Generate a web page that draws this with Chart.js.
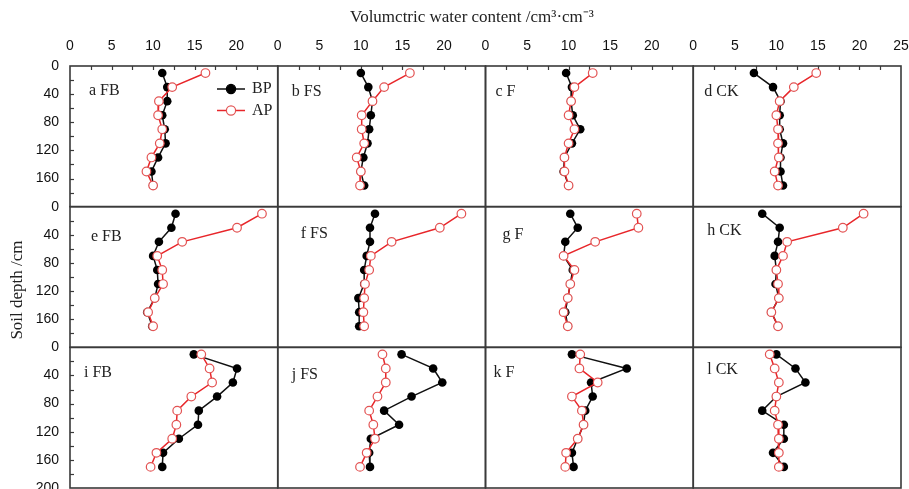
<!DOCTYPE html>
<html>
<head>
<meta charset="utf-8">
<script src="https://cdn.jsdelivr.net/npm/chart.js@4.4.1/dist/chart.umd.min.js"></script>
<style>
  html, body { margin: 0; padding: 0; background: #fff; }
  #wrap { position: relative; width: 909px; height: 489px; }
</style>
</head>
<body>
<div id="wrap"><canvas id="soilChart"></canvas></div>
<script>
// ---------- Data ----------
const DEPTHS = [10, 30, 50, 70, 90, 110, 130, 150, 170];   // soil depth, cm
const PANEL_LABELS = ['a FB', 'b FS', 'c F', 'd CK', 'e FB', 'f FS', 'g F', 'h CK', 'i FB', 'j FS', 'k F', 'l CK'];
const X_TICKS = [0, 5, 10, 15, 20, 25];
const Y_TICKS = [0, 40, 80, 120, 160, 200];

// BP (before) per panel, a..l
const BP_VALUES = [
  [11.1, 11.7, 11.7, 11.1, 11.4, 11.5, 10.6, 9.8, 10.0],   // a
  [10.0, 10.9, 11.4, 11.2, 11.0, 10.8, 10.3, 10.0, 10.4],  // b
  [9.7, 10.4, 10.3, 10.5, 11.4, 10.4, 9.5, 9.4, 10.0],     // c
  [7.3, 9.6, 10.5, 10.4, 10.4, 10.8, 10.5, 10.5, 10.8],    // d
  [12.7, 12.2, 10.7, 10.0, 10.5, 10.6, 10.2, 9.3, 9.9],    // e
  [11.7, 11.1, 11.1, 10.7, 10.4, 10.4, 9.7, 9.8, 9.8],     // f
  [10.2, 11.1, 9.6, 9.4, 10.5, 10.2, 9.9, 9.6, 9.9],       // g
  [8.3, 10.4, 10.2, 9.8, 10.0, 9.9, 10.3, 9.4, 10.2],      // h
  [14.9, 20.1, 19.6, 17.7, 15.5, 15.4, 13.1, 11.2, 11.1],  // i
  [14.9, 18.7, 19.8, 16.1, 12.8, 14.6, 11.2, 11.0, 11.1],  // j
  [10.4, 17.0, 12.7, 12.9, 12.0, 11.8, 11.1, 10.4, 10.6],  // k
  [10.0, 12.3, 13.5, 10.0, 8.3, 10.9, 10.9, 9.6, 10.9]     // l
];

// AP (after) per panel, a..l
const AP_VALUES = [
  [16.3, 12.3, 10.7, 10.6, 11.1, 10.8, 9.8, 9.2, 10.0],    // a
  [15.9, 12.8, 11.4, 10.1, 10.1, 10.4, 9.5, 10.0, 9.9],    // b
  [12.9, 10.7, 10.3, 10.0, 10.7, 10.0, 9.5, 9.5, 10.0],    // c
  [14.8, 12.1, 10.4, 10.0, 10.2, 10.2, 10.3, 9.8, 10.2],   // d
  [23.1, 20.1, 13.5, 10.5, 11.1, 11.2, 10.2, 9.4, 10.0],   // e
  [22.1, 19.5, 13.7, 11.2, 11.0, 10.5, 10.4, 10.3, 10.4],  // f
  [18.2, 18.4, 13.2, 9.4, 10.7, 10.2, 9.9, 9.4, 9.9],      // g
  [20.5, 18.0, 11.3, 10.8, 10.0, 10.2, 10.3, 9.4, 10.2],   // h
  [15.8, 16.8, 17.1, 14.6, 12.9, 12.8, 12.3, 10.4, 9.7],   // i
  [12.6, 13.0, 13.0, 12.0, 11.0, 11.5, 11.7, 10.7, 9.9],   // j
  [11.4, 11.3, 13.5, 10.4, 11.6, 11.8, 11.1, 9.7, 9.6],    // k
  [9.2, 9.8, 10.3, 10.0, 9.8, 10.2, 10.3, 10.3, 10.3]      // l
];

// ---------- Styling ----------
const COLS = 4, ROWS = 3;
const FRAME = '#3a3a3a';
const RED = '#e8262a';
const RED_PT = '#e35454';
const SANS = '"Liberation Sans", Arial, sans-serif';
const SERIF = '"Liberation Serif", "Times New Roman", serif';
// panel label offsets from the panel's top-left corner (px)
const LABEL_DX = [19, 14, 10, 11, 21, 23, 17, 14, 14, 14, 8, 14];
const LABEL_DY = [25, 26, 26, 26, 30, 27, 28, 24, 25, 27, 25, 22];

// ---------- Datasets ----------
const datasets = [];
for (let p = 0; p < 12; p++) {
  const col = p % COLS, row = Math.floor(p / COLS);
  datasets.push({
    label: 'AP', order: 1,
    data: AP_VALUES[p].map((v, i) => ({ x: v, y: DEPTHS[i] })),
    xAxisID: 'x' + col, yAxisID: 'y' + row,
    showLine: true, borderColor: RED, borderWidth: 1.5,
    pointRadius: 4.3, pointBorderWidth: 1.2,
    pointBackgroundColor: '#fff', pointBorderColor: RED_PT
  });
  datasets.push({
    label: 'BP', order: 2,
    data: BP_VALUES[p].map((v, i) => ({ x: v, y: DEPTHS[i] })),
    xAxisID: 'x' + col, yAxisID: 'y' + row,
    showLine: true, borderColor: '#111', borderWidth: 1.5,
    pointRadius: 4.3, pointBorderWidth: 0,
    pointBackgroundColor: '#000', pointBorderColor: '#000'
  });
}

// ---------- Scales (stacked axes: one per column on top, one per row on the left) ----------
// top/left boxes get laid out in reverse key order, so add them last-first
const scales = {};
for (let c = COLS - 1; c >= 0; c--) {
  scales['x' + c] = {
    type: 'linear', position: 'top', stack: 'cols', stackWeight: 1,
    min: 0, max: 25,
    afterBuildTicks: s => { s.ticks = X_TICKS.map(v => ({ value: v })); },
    grid: { display: false, drawTicks: false },
    border: { display: false },
    ticks: {
      autoSkip: false, maxRotation: 0, padding: 11, color: '#111',
      font: { family: SANS, size: 14 },
      callback: v => (v === 25 && c < COLS - 1) ? '' : v
    },
    afterFit: s => { s.height = 66; s.paddingLeft = 0; s.paddingRight = 0; }
  };
}
for (let r = ROWS - 1; r >= 0; r--) {
  scales['y' + r] = {
    type: 'linear', position: 'left', stack: 'rows', stackWeight: 1,
    min: 0, max: 200, reverse: true,
    afterBuildTicks: s => { s.ticks = Y_TICKS.map(v => ({ value: v })); },
    grid: { display: false, drawTicks: false },
    border: { display: false },
    ticks: {
      autoSkip: false, padding: 11, color: '#111',
      font: { family: SANS, size: 14 },
      callback: v => (v === 200 && r < ROWS - 1) ? '' : v
    },
    afterFit: s => { s.width = 70; s.paddingTop = 0; s.paddingBottom = 0; }
  };
}

// ---------- Frames, inward ticks, panel labels, legend, axis titles ----------
const panelDecor = {
  id: 'panelDecor',
  beforeDatasetsDraw(chart) {
    const ctx = chart.ctx;
    ctx.save();
    ctx.strokeStyle = FRAME;
    ctx.lineWidth = 1.6;
    for (let r = 0; r < ROWS; r++) {
      for (let c = 0; c < COLS; c++) {
        const xs = chart.scales['x' + c], ys = chart.scales['y' + r];
        const x0 = xs.getPixelForValue(0), x1 = xs.getPixelForValue(25);
        const y0 = ys.getPixelForValue(0), y1 = ys.getPixelForValue(200);
        ctx.strokeRect(x0, y0, x1 - x0, y1 - y0);
        const p = r * COLS + c;
        ctx.fillStyle = '#222';
        ctx.font = '16px ' + SERIF;
        ctx.textBaseline = 'middle';
        ctx.textAlign = 'left';
        ctx.fillText(PANEL_LABELS[p], x0 + LABEL_DX[p], y0 + LABEL_DY[p]);
      }
    }
    // inward ticks along top of first row
    ctx.lineWidth = 1.2;
    const top = chart.scales.y0.getPixelForValue(0);
    for (let c = 0; c < COLS; c++) {
      const xs = chart.scales['x' + c];
      for (let v = 2.5; v < 25; v += 2.5) {
        const px = Math.round(xs.getPixelForValue(v)) + 0.5;
        ctx.beginPath(); ctx.moveTo(px, top); ctx.lineTo(px, top + 4); ctx.stroke();
      }
    }
    // inward ticks along left of first column
    const left = chart.scales.x0.getPixelForValue(0);
    for (let r = 0; r < ROWS; r++) {
      const ys = chart.scales['y' + r];
      for (let v = 20; v < 200; v += 20) {
        const py = Math.round(ys.getPixelForValue(v)) + 0.5;
        ctx.beginPath(); ctx.moveTo(left, py); ctx.lineTo(left + 4, py); ctx.stroke();
      }
    }
    ctx.restore();
  },
  afterDraw(chart) {
    const ctx = chart.ctx;
    ctx.save();
    // legend in panel a
    const lx = 217, items = [['BP', 89, '#111', '#000', '#000'], ['AP', 110.5, RED, '#fff', RED_PT]];
    items.forEach(([txt, y, line, fill, edge]) => {
      ctx.strokeStyle = line; ctx.lineWidth = 1.5;
      ctx.beginPath(); ctx.moveTo(lx, y); ctx.lineTo(lx + 28, y); ctx.stroke();
      ctx.beginPath(); ctx.arc(lx + 14, y, 4.6, 0, Math.PI * 2);
      ctx.fillStyle = fill; ctx.fill();
      ctx.strokeStyle = edge; ctx.lineWidth = 1.2; ctx.stroke();
      ctx.fillStyle = '#222';
      ctx.font = '16px ' + SERIF;
      ctx.textAlign = 'left'; ctx.textBaseline = 'middle';
      ctx.fillText(txt, lx + 35, y);
    });
    // axis titles
    ctx.fillStyle = '#222';
    ctx.font = '17px ' + SERIF;
    ctx.textAlign = 'center'; ctx.textBaseline = 'middle';
    ctx.fillText('Volumctric water content /cm\u00B3\u00B7cm\u207B\u00B3', 472, 18);
    ctx.translate(18, 290);
    ctx.rotate(-Math.PI / 2);
    ctx.fillText('Soil depth /cm', 0, 0);
    ctx.restore();
  }
};

new Chart(document.getElementById('soilChart'), {
  type: 'scatter',
  data: { datasets },
  options: {
    responsive: true,
    maintainAspectRatio: false,
    animation: false,
    layout: { autoPadding: false, padding: { left: 0, right: 8, top: 0, bottom: 1 } },
    scales,
    plugins: { legend: { display: false }, tooltip: { enabled: false } }
  },
  plugins: [panelDecor]
});
</script>
</body>
</html>
